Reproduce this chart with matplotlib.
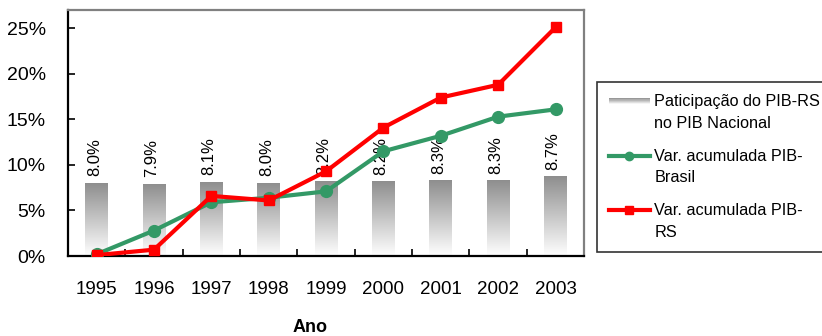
import numpy as np
import matplotlib
matplotlib.use('Agg')
import matplotlib.pyplot as plt
from matplotlib.patches import Rectangle
from matplotlib.lines import Line2D
from matplotlib.legend_handler import HandlerBase
from matplotlib.colors import LinearSegmentedColormap
from matplotlib.ticker import FuncFormatter

plt.rcParams['font.family'] = ['Liberation Sans', 'DejaVu Sans']

# dados
anos = ['1995', '1996', '1997', '1998', '1999', '2000', '2001', '2002', '2003']
participacao = [8.0, 7.9, 8.1, 8.0, 8.2, 8.2, 8.3, 8.3, 8.7]
var_brasil = [0.2, 2.8, 5.9, 6.4, 7.1, 11.5, 13.2, 15.3, 16.1]
var_rs = [0.1, 0.7, 6.6, 6.1, 9.3, 14.1, 17.4, 18.8, 25.1]

verde = '#339966'
vermelho = '#ff0000'
cinza = LinearSegmentedColormap.from_list('cinza', ['#ffffff', '#8e8e8e'])

FS_LEG = 11.7
DESLOC = 0.72  # sobe o símbolo até a primeira linha do rótulo


class HandlerGradiente(HandlerBase):
    # faixa cinza em degradê, alinhada com a primeira linha do texto
    def create_artists(self, legend, orig_handle, xdescent, ydescent,
                       width, height, fontsize, trans):
        n = 12
        h = 0.42 * fontsize
        yc = -ydescent + height / 2 + DESLOC * fontsize
        arts = []
        for k in range(n):
            c = cinza(1 - k / (n - 1))
            r = Rectangle((-xdescent, yc + h / 2 - (k + 1) * h / n), width,
                          h / n, facecolor=c, edgecolor='none',
                          transform=trans)
            arts.append(r)
        return arts


class HandlerLinha(HandlerBase):
    # linha com marcador, alinhada com a primeira linha do texto
    def create_artists(self, legend, orig_handle, xdescent, ydescent,
                       width, height, fontsize, trans):
        yc = -ydescent + height / 2 + DESLOC * fontsize
        linha = Line2D([-xdescent, width - xdescent], [yc, yc],
                       color=orig_handle.get_color(), lw=3, transform=trans)
        marca = Line2D([width / 2 - xdescent], [yc],
                       color=orig_handle.get_color(),
                       marker=orig_handle.get_marker(), markersize=6,
                       linestyle='none', transform=trans)
        return [linha, marca]


fig = plt.figure(figsize=(8.22, 3.36), dpi=100)
ax = fig.add_axes([0.0827, 0.238, 0.628, 0.732])

x = np.arange(len(anos))
larg = 0.4
grad = np.linspace(1, 0, 256).reshape(-1, 1)
for xi, v in zip(x, participacao):
    ax.imshow(grad, cmap=cinza, extent=[xi - larg / 2, xi + larg / 2, 0, v],
              aspect='auto', zorder=1, vmin=0, vmax=1)
    ax.text(xi - 0.04, v + 0.75, f'{v:.1f}%', rotation=90, ha='center',
            va='bottom', fontsize=12, zorder=2)

ax.plot(x, var_brasil, color=verde, lw=3, marker='o', markersize=8.5,
        zorder=3)
ax.plot(x, var_rs, color=vermelho, lw=3, marker='s', markersize=7, zorder=4)

ax.set_xlim(-0.5, 8.5)
ax.set_ylim(0, 27)
ax.set_xticks(x)
ax.set_xticklabels(anos)
ax.set_xticks(np.arange(-0.5, 9, 1), minor=True)
ax.tick_params(axis='x', which='major', length=0, pad=18, labelsize=13.5)
ax.tick_params(axis='x', which='minor', direction='in', length=5, width=1.2)
ax.set_yticks(np.arange(0, 26, 5))
ax.yaxis.set_major_formatter(FuncFormatter(lambda v, p: f'{v:.0f}%'))
ax.tick_params(axis='y', direction='in', length=5, width=1.2, pad=16,
               labelsize=14)

for s in ['left', 'bottom']:
    ax.spines[s].set_color('black')
    ax.spines[s].set_linewidth(1.6)
for s in ['top', 'right']:
    ax.spines[s].set_color('#808080')
    ax.spines[s].set_linewidth(1.6)

fig.text(0.377, 0.024, 'Ano', ha='center', va='center', fontsize=13,
         fontweight='bold')

faixa = Rectangle((0, 0), 1, 1)
h_br = Line2D([], [], color=verde, marker='o')
h_rs = Line2D([], [], color=vermelho, marker='s')
leg = fig.legend([faixa, h_br, h_rs],
                 ['Paticipação do PIB-RS\nno PIB Nacional',
                  'Var. acumulada PIB-\nBrasil',
                  'Var. acumulada PIB-\nRS'],
                 handler_map={Rectangle: HandlerGradiente(),
                              Line2D: HandlerLinha()},
                 loc='upper left', bbox_to_anchor=(0.726, 0.756),
                 fontsize=FS_LEG, frameon=True, fancybox=False,
                 borderpad=0.75, labelspacing=1.1, handlelength=2.5,
                 handletextpad=0.3, borderaxespad=0)
leg.get_frame().set_edgecolor('black')
leg.get_frame().set_linewidth(1.2)
for t in leg.get_texts():
    t.set_linespacing(1.55)

fig.savefig('out.png', dpi=100)
